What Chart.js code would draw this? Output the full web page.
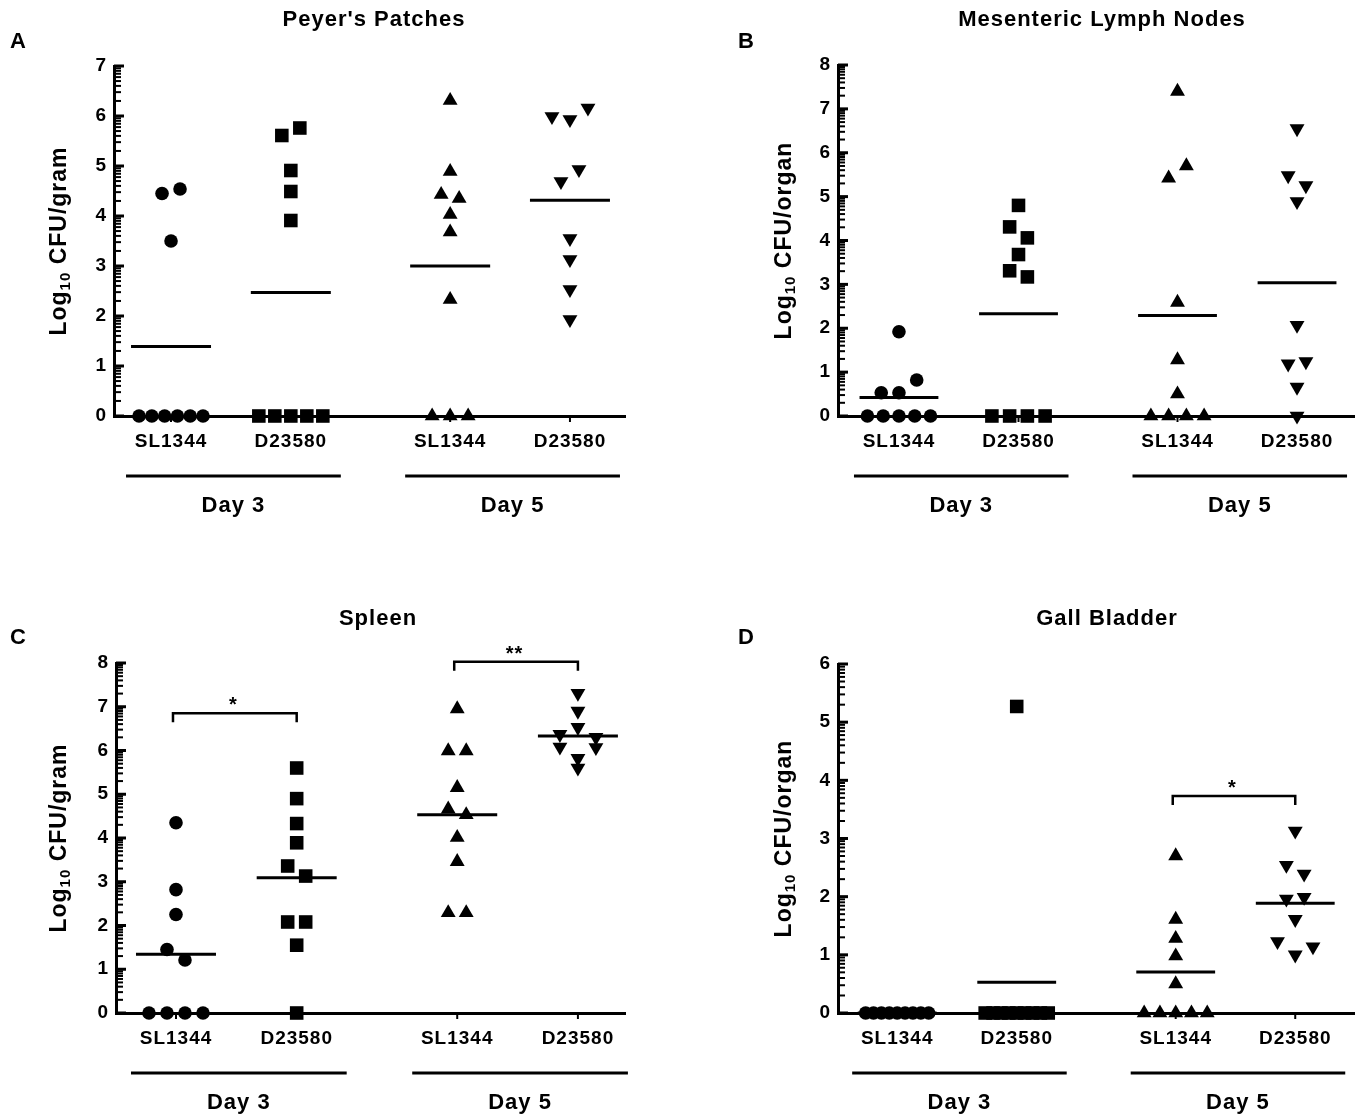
<!DOCTYPE html>
<html>
<head>
<meta charset="utf-8">
<title>CFU dot plots</title>
<script src="https://cdn.jsdelivr.net/npm/chart.js@4.4.1/dist/chart.umd.min.js"></script>
<style>
  body { margin: 0; background: #fff; }
  #wrap { position: relative; width: 1364px; height: 1118px; }
  .panel { position: absolute; width: 682px; height: 559px; }
</style>
</head>
<body>
<div id="wrap">
  <div class="panel" style="left:0;top:0"><canvas id="cA" width="682" height="559"></canvas></div>
  <div class="panel" style="left:682px;top:0"><canvas id="cB" width="682" height="559"></canvas></div>
  <div class="panel" style="left:0;top:559px"><canvas id="cC" width="682" height="559"></canvas></div>
  <div class="panel" style="left:682px;top:559px"><canvas id="cD" width="682" height="559"></canvas></div>
</div>
<script>
const strains = ['SL1344', 'D23580', 'SL1344', 'D23580'];
const days = ['Day 3', 'Day 5'];
const groupX = [1, 2, 3.33, 4.33];
const markers = ['circle', 'rect', 'triangle', 'triangle'];

// Peyer's Patches, log10 CFU/gram
const ppSL3 = [0, 0, 0, 0, 0, 0, 4.45, 4.54, 3.50];
const ppD3 = [0, 0, 0, 0, 0, 5.61, 5.76, 4.91, 4.49, 3.91];
const ppSL5 = [0, 0, 0, 6.31, 4.89, 4.43, 4.35, 4.03, 3.68, 2.33];
const ppD5 = [5.99, 5.93, 6.16, 4.69, 4.93, 3.55, 3.13, 2.53, 1.93];

// Mesenteric lymph nodes, log10 CFU/organ
const mlnSL3 = [0, 0, 0, 0, 0, 0.53, 0.53, 0.82, 1.92];
const mlnD3 = [0, 0, 0, 0, 4.80, 4.31, 4.06, 3.68, 3.31, 3.17];
const mlnSL5 = [0, 0, 0, 0, 7.40, 5.42, 5.70, 2.59, 1.28, 0.50];
const mlnD5 = [6.55, 5.48, 5.25, 4.89, 2.07, 1.19, 1.24, 0.66, 0];

// Spleen, log10 CFU/gram
const spSL3 = [0, 0, 0, 0, 4.35, 2.82, 2.25, 1.45, 1.21];
const spD3 = [0, 5.60, 4.90, 4.33, 3.89, 3.36, 3.13, 2.08, 2.08, 1.55];
const spSL5 = [6.95, 5.99, 5.99, 5.15, 4.66, 4.53, 4.01, 3.46, 2.29, 2.29];
const spD5 = [7.31, 6.90, 6.37, 6.53, 6.30, 6.08, 5.82, 6.07, 5.60];

// Gall bladder, log10 CFU/organ
const gbSL3 = [0, 0, 0, 0, 0, 0, 0, 0, 0];
const gbD3 = [5.27, 0, 0, 0, 0, 0, 0, 0, 0, 0];
const gbSL5 = [0, 0, 0, 0, 0, 2.70, 1.61, 1.28, 0.98, 0.50];
const gbD5 = [3.13, 2.54, 2.39, 1.96, 1.99, 1.61, 1.23, 1.00, 1.14];

// significance brackets: group index pairs, level, label
const spleenSig = [{ from: 0, to: 1, level: 6.85, label: '*' }, { from: 2, to: 3, level: 8.03, label: '**' }];
const gallSig = [{ from: 2, to: 3, level: 3.73, label: '*' }];

const FONT = '"Liberation Sans", Arial, Helvetica, sans-serif';

// spread points that share (almost) the same value side by side, like a column scatter
function swarm(values, gx, xUnit, yUnit) {
  const order = values.map((v, i) => i).sort((a, b) => values[b] - values[a]);
  const rows = [];
  order.forEach(i => {
    const row = rows[rows.length - 1];
    if (row && (values[row[0]] - values[i]) * yUnit < 14) row.push(i);
    else rows.push([i]);
  });
  const pts = [];
  rows.forEach(row => {
    row.sort((a, b) => a - b);
    const gap = row.length > 1 ? Math.min(18, 64 / (row.length - 1)) : 0;
    row.forEach((i, k) => pts.push({ x: gx + (k - (row.length - 1) / 2) * gap / xUnit, y: values[i] }));
  });
  return pts;
}

const mean = arr => arr.reduce((s, v) => s + v, 0) / arr.length;

const decoPlugin = {
  id: 'deco',
  beforeDraw(chart) {
    chart.ctx.letterSpacing = '1px';
  },
  afterDraw(chart, args, o) {
    const ctx = chart.ctx, xs = chart.scales.x, ys = chart.scales.y, a = chart.chartArea;
    const seg = (x1, y1, x2, y2, w) => {
      ctx.lineWidth = w; ctx.beginPath(); ctx.moveTo(x1, y1); ctx.lineTo(x2, y2); ctx.stroke();
    };
    ctx.save();
    ctx.strokeStyle = '#000';
    ctx.fillStyle = '#000';

    // y axis: major ticks at integers, log minor ticks, drawn inward
    for (let v = ys.min; v <= ys.max; v++) {
      const p = ys.getPixelForValue(v);
      seg(a.left, p, a.left + 10, p, 3);
      if (v < ys.max) {
        for (let k = 2; k < 10; k++) {
          const q = ys.getPixelForValue(v + Math.log10(k));
          seg(a.left, q, a.left + 7, q, 2);
        }
      }
    }
    // x axis tick marks
    xs.ticks.forEach(t => {
      const p = xs.getPixelForValue(t.value);
      seg(p, a.bottom, p, a.bottom + 6, 2);
    });

    // day bars + labels
    ctx.textAlign = 'center';
    ctx.textBaseline = 'middle';
    days.forEach((d, i) => {
      const x1 = xs.getPixelForValue(groupX[2 * i]) - 45;
      const x2 = xs.getPixelForValue(groupX[2 * i + 1]) + 50;
      seg(x1, a.bottom + 60, x2, a.bottom + 60, 3);
      ctx.font = 'bold 22px ' + FONT;
      ctx.fillText(d, (x1 + x2) / 2, a.bottom + 90);
    });

    // significance stars
    ctx.textBaseline = 'alphabetic';
    ctx.font = 'bold 20px ' + FONT;
    o.brackets.forEach(b => {
      const xm = (xs.getPixelForValue(groupX[b.from]) + xs.getPixelForValue(groupX[b.to])) / 2;
      ctx.fillText(b.label, xm - 3, ys.getPixelForValue(b.level) - 2);
    });

    // title and panel letter
    ctx.font = 'bold 22px ' + FONT;
    ctx.textBaseline = 'middle';
    ctx.fillText(o.title, o.titleXY[0], o.titleXY[1]);
    ctx.textAlign = 'left';
    ctx.fillText(o.letter, o.letterXY[0], o.letterXY[1]);

    // y axis title with subscript
    ctx.translate(o.yTitleX, (a.top + a.bottom) / 2);
    ctx.rotate(-Math.PI / 2);
    const big = 'bold 23px ' + FONT, small = 'bold 15px ' + FONT;
    const parts = [['Log', big, 0], ['10', small, 6], [' CFU/' + o.unit, big, 0]];
    let w = 0;
    parts.forEach(p => { ctx.font = p[1]; w += ctx.measureText(p[0]).width; });
    let x = -w / 2;
    parts.forEach(p => { ctx.font = p[1]; ctx.fillText(p[0], x, p[2]); x += ctx.measureText(p[0]).width; });
    ctx.restore();
  }
};

const panels = [
  { id: 'cA', letter: 'A', title: "Peyer's Patches", unit: 'gram', ymax: 7,
    groups: [ppSL3, ppD3, ppSL5, ppD5], brackets: [], groupPx: 119.8, xmin: 0.524,
    box: { left: 114, top: 66, right: 625, bottom: 416 }, titleXY: [374, 20], letterXY: [10, 42], yTitleX: 60 },
  { id: 'cB', letter: 'B', title: 'Mesenteric Lymph Nodes', unit: 'organ', ymax: 8,
    groups: [mlnSL3, mlnD3, mlnSL5, mlnD5], brackets: [], groupPx: 121.3, xmin: 0.49,
    box: { left: 156, top: 65, right: 680, bottom: 416 }, titleXY: [420, 20], letterXY: [56, 42], yTitleX: 103 },
  { id: 'cC', letter: 'C', title: 'Spleen', unit: 'gram', ymax: 8,
    groups: [spSL3, spD3, spSL5, spD5], brackets: spleenSig, groupPx: 120.7, xmin: 0.503,
    box: { left: 116, top: 104, right: 625, bottom: 454 }, titleXY: [378, 60], letterXY: [10, 79], yTitleX: 60 },
  { id: 'cD', letter: 'D', title: 'Gall Bladder', unit: 'organ', ymax: 6,
    groups: [gbSL3, gbD3, gbSL5, gbD5], brackets: gallSig, groupPx: 121.3, xmin: 0.505,
    box: { left: 156, top: 105, right: 680, bottom: 454 }, titleXY: [425, 60], letterXY: [56, 79], yTitleX: 103 }
];

panels.forEach(p => {
  const b = p.box;
  const xmax = p.xmin + (b.right - b.left) / p.groupPx;
  const yUnit = (b.bottom - b.top) / p.ymax;
  const datasets = [];

  p.groups.forEach((vals, g) => {
    datasets.push({
      data: swarm(vals, groupX[g], p.groupPx, yUnit),
      pointStyle: markers[g],
      pointRotation: g === 3 ? 180 : 0,
      pointRadius: g === 0 ? 6.8 : (g === 1 ? 9.6 : 8.6),
      pointBackgroundColor: '#000',
      pointBorderColor: '#000',
      pointBorderWidth: 0,
      clip: false
    });
    const m = mean(vals);
    datasets.push({
      data: [{ x: groupX[g] - 40 / p.groupPx, y: m }, { x: groupX[g] + 40 / p.groupPx, y: m }],
      showLine: true, borderColor: '#000', borderWidth: 3, pointRadius: 0, clip: false
    });
  });

  p.brackets.forEach(s => {
    const drop = 9 / yUnit;
    datasets.push({
      data: [
        { x: groupX[s.from] - 3 / p.groupPx, y: s.level - drop }, { x: groupX[s.from] - 3 / p.groupPx, y: s.level },
        { x: groupX[s.to], y: s.level }, { x: groupX[s.to], y: s.level - drop }
      ],
      showLine: true, borderColor: '#000', borderWidth: 2.5, pointRadius: 0, clip: false
    });
  });

  new Chart(document.getElementById(p.id), {
    type: 'scatter',
    data: { datasets },
    options: {
      responsive: false,
      animation: false,
      devicePixelRatio: 1,
      layout: { padding: { left: 0, top: b.top, right: 682 - b.right, bottom: 0 } },
      scales: {
        x: {
          type: 'linear', min: p.xmin, max: xmax,
          afterFit: s => { s.height = 559 - b.bottom; },
          afterBuildTicks: s => { s.ticks = groupX.map(v => ({ value: v })); },
          ticks: {
            callback: (v, i) => strains[i],
            autoSkip: false, maxRotation: 0, padding: 14,
            color: '#000', font: { family: FONT, size: 19, weight: 'bold' }
          },
          grid: { display: false, drawTicks: false },
          border: { display: true, width: 3, color: '#000' }
        },
        y: {
          min: 0, max: p.ymax,
          afterFit: s => { s.width = b.left; },
          ticks: {
            stepSize: 1, padding: 7, color: '#000',
            font: { family: FONT, size: 19, weight: 'bold' }
          },
          grid: { display: false, drawTicks: false },
          border: { display: true, width: 3, color: '#000' }
        }
      },
      plugins: {
        legend: { display: false },
        tooltip: { enabled: false },
        deco: p
      }
    },
    plugins: [decoPlugin]
  });
});
</script>
</body>
</html>
